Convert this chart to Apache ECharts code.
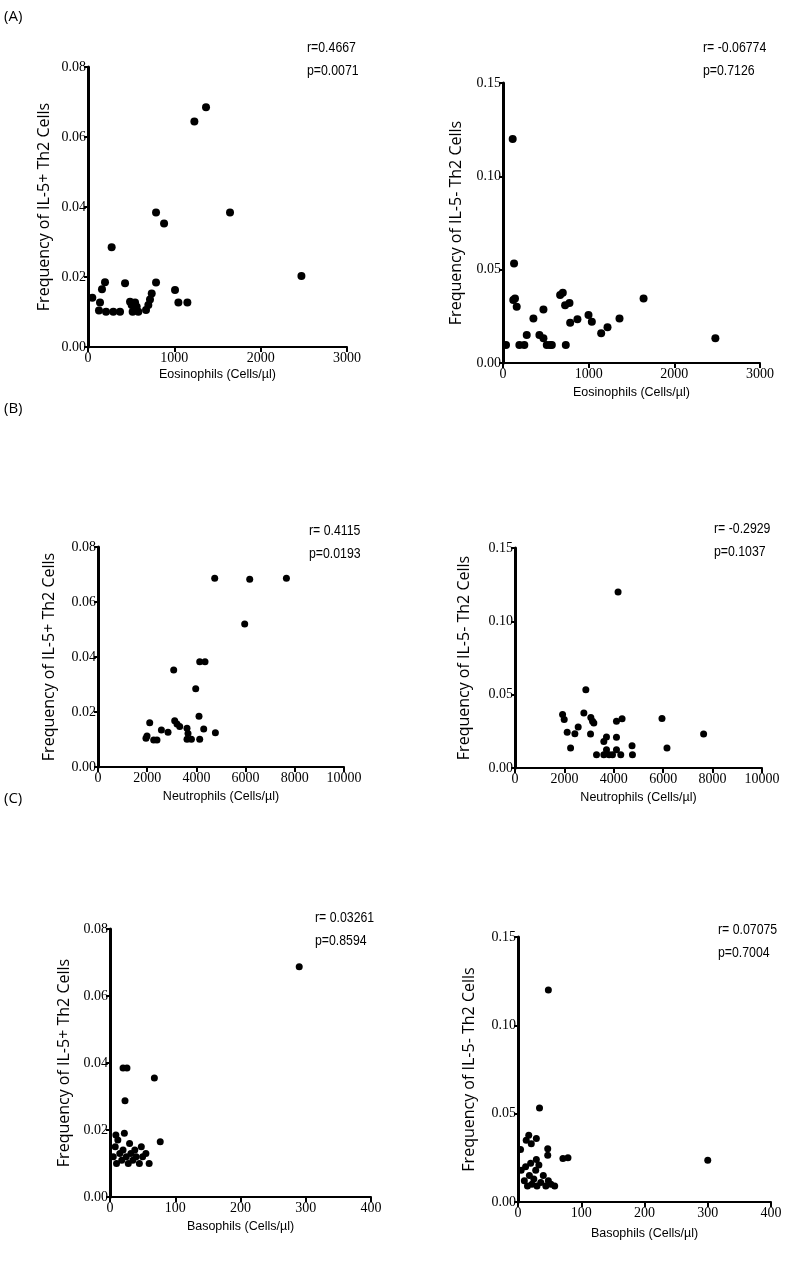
<!DOCTYPE html>
<html><head><meta charset="utf-8">
<script src="https://cdn.jsdelivr.net/npm/echarts@6/dist/echarts.min.js"></script>
<style>html,body{margin:0;padding:0;background:#fff}#c{width:790px;height:1269px}</style>
</head><body><div id="c"></div>
<script>
// ---- data (x = cells/µl, y = frequency) ----
const eosIL5pos = [[50,0.0141],[127,0.0104],[139,0.0127],[162,0.0165],[197,0.0185],[209,0.0101],[274,0.0285],[293,0.0101],[371,0.0101],[429,0.0182],[487,0.0129],[506,0.012],[517,0.0101],[545,0.0127],[564,0.0115],[583,0.0101],[672,0.0106],[699,0.012],[718,0.0136],[738,0.0153],[788,0.0184],[788,0.0384],[881,0.0353],[1008,0.0163],[1047,0.0127],[1151,0.0127],[1232,0.0644],[1367,0.0685],[1645,0.0384],[2472,0.0203]];
const eosIL5neg = [[113,0.12],[129,0.0533],[35,0.0096],[120,0.0337],[140,0.0346],[160,0.0301],[191,0.0096],[249,0.0096],[277,0.015],[355,0.0239],[425,0.015],[472,0.0287],[472,0.0132],[511,0.0096],[550,0.0096],[570,0.0096],[667,0.0364],[698,0.0376],[725,0.031],[776,0.0322],[733,0.0096],[784,0.0216],[869,0.0234],[998,0.0257],[1037,0.0221],[1146,0.0159],[1220,0.0191],[1360,0.0239],[1641,0.0346],[2479,0.0132]];
const neuIL5pos = [[4744,0.0686],[6167,0.0683],[7659,0.0686],[5963,0.052],[3077,0.0353],[4134,0.0383],[4350,0.0383],[3972,0.0285],[1992,0.0113],[1950,0.0105],[2102,0.0161],[2264,0.0098],[2398,0.0098],[2577,0.0135],[2846,0.0126],[3118,0.0168],[3211,0.0156],[3321,0.0147],[3618,0.0141],[3659,0.0122],[3618,0.0101],[3797,0.0101],[4106,0.0185],[4134,0.0101],[4297,0.0138],[4772,0.0125]];
const neuIL5neg = [[4173,0.12],[2868,0.0534],[1926,0.0364],[1992,0.033],[2113,0.0243],[2250,0.0136],[2424,0.0234],[2558,0.028],[2788,0.0375],[3070,0.0345],[3139,0.0318],[3192,0.0307],[3058,0.0232],[3300,0.0091],[3596,0.0181],[3704,0.0211],[3596,0.0091],[3704,0.0125],[3810,0.0091],[3947,0.0091],[4108,0.0318],[4335,0.0336],[4108,0.0209],[4108,0.0125],[4282,0.0091],[4739,0.0152],[4755,0.0091],[5951,0.0338],[6153,0.0136],[7636,0.0232]];
const basIL5pos = [[5,0.012],[8,0.015],[10,0.010],[12,0.017],[15,0.013],[18,0.011],[20,0.014],[22,0.019],[25,0.012],[28,0.010],[30,0.016],[32,0.013],[35,0.011],[38,0.014],[40,0.012],[45,0.010],[48,0.015],[50,0.012],[55,0.013],[60,0.010],[77,0.0165],[9,0.0185],[20,0.0385],[26,0.0385],[68,0.0355],[23,0.0287],[290,0.0687]];
const basIL5neg = [[48,0.12],[34,0.0532],[17,0.0378],[13,0.035],[21,0.033],[29,0.0359],[4,0.0297],[47,0.0302],[47,0.0264],[29,0.024],[71,0.0246],[79,0.0251],[300,0.0236],[5,0.018],[10,0.012],[12,0.02],[15,0.009],[18,0.015],[20,0.022],[22,0.010],[25,0.013],[28,0.018],[30,0.009],[33,0.021],[36,0.011],[40,0.015],[44,0.009],[48,0.012],[52,0.010],[58,0.009]];

const xNames = ['Eosinophils (Cells/µl)','Neutrophils (Cells/µl)','Basophils (Cells/µl)'];
const yNames = ['Frequency of IL-5+ Th2 Cells','Frequency of IL-5- Th2 Cells'];
const stats = [['r=0.4667','p=0.0071'],['r= -0.06774','p=0.7126'],['r= 0.4115','p=0.0193'],['r= -0.2929','p=0.1037'],['r= 0.03261','p=0.8594'],['r= 0.07075','p=0.7004']];
const panelLabels = ['(A)','(B)','(C)'];
const xMax = [3000,10000,400], xInt = [1000,2000,100];
const yMaxPos = 0.08, yIntPos = 0.02, yMaxNeg = 0.15, yIntNeg = 0.05;

// ---- layout ----
const grids = [
  {left:88, top:67, width:259, height:280},
  {left:503, top:83, width:257, height:280},
  {left:98, top:547, width:246, height:220},
  {left:515, top:548, width:247, height:220},
  {left:110, top:929, width:261, height:268},
  {left:518, top:937, width:253, height:265}
];
const yGaps = [36,39,41,43,38,41];
const xGaps = [21,23,23,23,23,25];
const statPos = [[307,45],[703,45],[309,528],[714,526],[315,915],[718,927]];
const labelY = [18,410,800];
const dataSets = [eosIL5pos,eosIL5neg,neuIL5pos,neuIL5neg,basIL5pos,basIL5neg];

const SANS = '"Liberation Sans",Arial,sans-serif';
const SERIF = '"Liberation Serif","Times New Roman",serif';
const xAxis = [], yAxis = [], series = [], graphic = [];
grids.forEach((g,i)=>{
  const row = Math.floor(i/2), neg = i%2===1;
  xAxis.push({gridIndex:i, type:'value', min:0, max:xMax[row], interval:xInt[row],
    name:xNames[row], nameLocation:'middle', nameGap:xGaps[i],
    nameTextStyle:{fontFamily:SANS, fontSize:12.5, color:'#000', verticalAlign:'top'},
    splitLine:{show:false},
    axisLine:{show:true, onZero:false, lineStyle:{color:'#000', width:2}},
    axisTick:{show:true, length:5, lineStyle:{color:'#000', width:2}},
    axisLabel:{fontFamily:SERIF, fontSize:14, color:'#000', margin:4, formatter:v=>String(v)}
  });
  yAxis.push({gridIndex:i, type:'value', min:0, max:neg?yMaxNeg:yMaxPos, interval:neg?yIntNeg:yIntPos,
    name:yNames[neg?1:0], nameLocation:'middle', nameGap:yGaps[i],
    nameTextStyle:{fontFamily:'"Open Sans",sans-serif', fontSize:16, color:'#000'},
    splitLine:{show:false},
    axisLine:{show:true, onZero:false, lineStyle:{color:'#000', width:3}},
    axisTick:{show:true, length:4, lineStyle:{color:'#000', width:2}},
    axisLabel:{fontFamily:SERIF, fontSize:14, color:'#000', margin:2,
      formatter:v=>v.toFixed(2)}
  });
  series.push({type:'scatter', xAxisIndex:i, yAxisIndex:i, data:dataSets[i],
    symbol:'circle', symbolSize: row===0?8:7, itemStyle:{color:'#000', opacity:1}, silent:true, animation:false});
  graphic.push({type:'text', x:statPos[i][0], y:statPos[i][1]-9, scaleX:0.82,
    style:{text:stats[i][0]+'\n'+stats[i][1], font:'15px '+SANS, fill:'#000', lineHeight:23}});
});
panelLabels.forEach((t,k)=>graphic.push({type:'text', x:4, y:labelY[k]-9,
  style:{text:t, font:'15px "Open Sans",sans-serif', fill:'#000'}}));

const chart = echarts.init(document.getElementById('c'), null, {renderer:'canvas'});
chart.setOption({animation:false, backgroundColor:'#fff', grid:grids.map(g=>Object.assign({containLabel:false},g)),
  xAxis, yAxis, series, graphic});
</script></body></html>
